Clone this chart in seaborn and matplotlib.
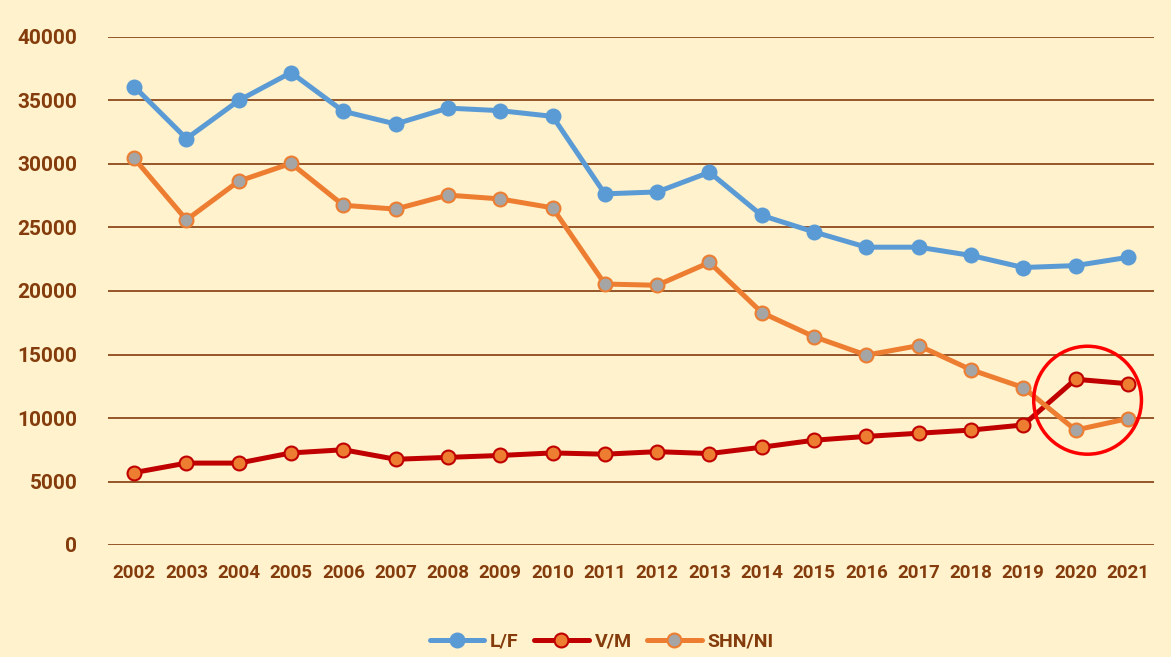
import pandas as pd
import seaborn as sns
import matplotlib.pyplot as plt
from matplotlib.patches import Ellipse

years = [str(y) for y in range(2002, 2022)]
lf = [36100, 32000, 35000, 37200, 34150, 33150, 34400, 34200, 33750, 27650,
      27800, 29350, 25950, 24650, 23450, 23450, 22800, 21850, 22000, 22650]
vm = [5700, 6450, 6450, 7250, 7500, 6750, 6900, 7050, 7250, 7150,
      7350, 7200, 7700, 8250, 8550, 8800, 9050, 9450, 13050, 12700]
shn = [30450, 25600, 28650, 30050, 26750, 26450, 27550, 27250, 26550, 20550,
       20450, 22250, 18300, 16400, 14950, 15700, 13800, 12400, 9050, 9950]

series = ["L/F", "V/M", "SHN/NI"]

df = pd.DataFrame({
    "year": years * 3,
    "pos": list(range(len(years))) * 3,
    "value": lf + vm + shn,
    "series": [s for s in series for _ in years],
})

bg = "#FFF2CC"
brown = "#843C0C"
styles = {
    "L/F": dict(color="#5B9BD5", markerfacecolor="#5B9BD5", markeredgecolor="#5B9BD5"),
    "V/M": dict(color="#C00000", markerfacecolor="#ED7D31", markeredgecolor="#C00000"),
    "SHN/NI": dict(color="#ED7D31", markerfacecolor="#A5A5A5", markeredgecolor="#ED7D31"),
}

sns.set_style("white")
plt.rcParams["font.family"] = ["Roboto", "DejaVu Sans"]

fig = plt.figure(figsize=(11.71, 6.57), dpi=100, facecolor=bg)
ax = fig.add_axes([108 / 1171, 1 - 545 / 657, (1154 - 108) / 1171, (545 - 37) / 657])
ax.set_facecolor(bg)

for s in series:
    sub = df[df["series"] == s]
    sns.lineplot(data=sub, x="pos", y="value", ax=ax, label=s, lw=3.6,
                 marker="o", markersize=10, markeredgewidth=1.5, zorder=3,
                 **styles[s])

ax.set_xlim(-0.5, len(years) - 0.5)
ax.set_ylim(0, 40000)
ax.set_xticks(range(len(years)))
ax.set_xticklabels(years)
ax.set_yticks(range(0, 40001, 5000))
ax.yaxis.grid(True, color=brown, lw=1.2)
ax.set_axisbelow(True)
for sp in ax.spines.values():
    sp.set_visible(False)
ax.tick_params(axis="both", length=0, colors=brown)
ax.tick_params(axis="x", pad=14, labelsize=13.5)
ax.tick_params(axis="y", pad=22, labelsize=15)
for lab in ax.get_xticklabels() + ax.get_yticklabels():
    lab.set_fontweight("bold")
ax.set_xlabel("")
ax.set_ylabel("")

# highlight circle around 2020-2021
ax.add_patch(Ellipse((18.23, 11400), 2.06, 8500, fill=False, ec="#FF0000", lw=2.5, zorder=5))

leg = ax.legend(loc="center", bbox_to_anchor=(0.472, -0.19), ncol=3, frameon=False,
                handlelength=2.8, columnspacing=0.8, handletextpad=0.3,
                prop={"weight": "bold", "size": 14})
for t in leg.get_texts():
    t.set_color(brown)

fig.savefig("out.png", dpi=100, facecolor=bg)
